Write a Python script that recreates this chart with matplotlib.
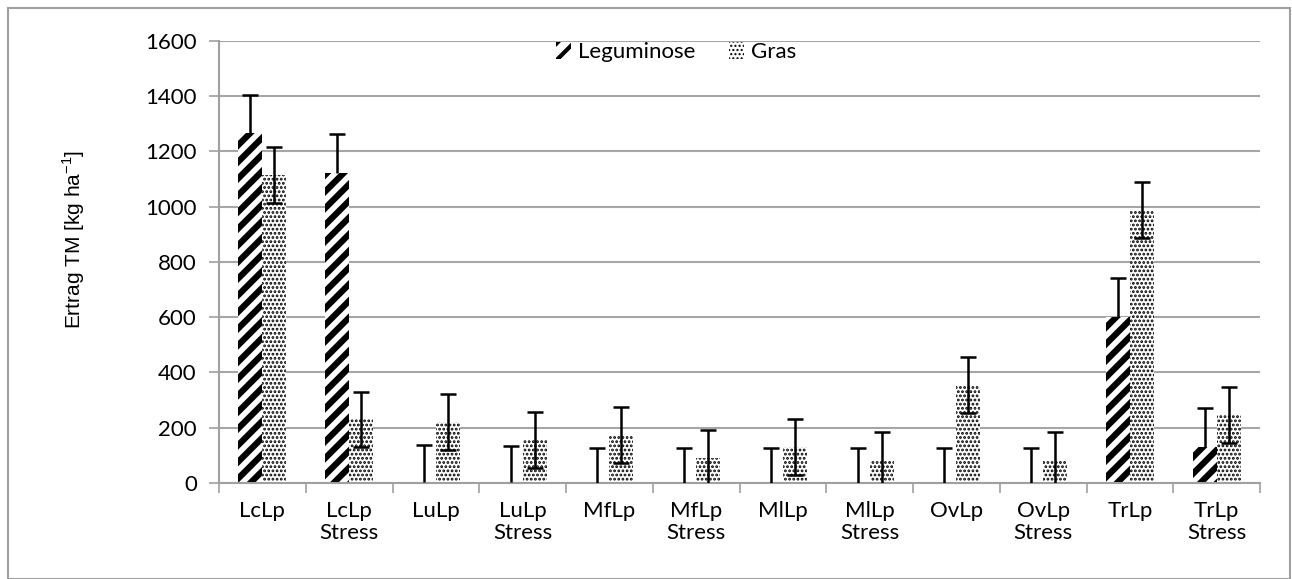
import numpy as np
import matplotlib.pyplot as plt
from matplotlib.patches import Patch, Rectangle

# Daten
kategorien = ["LcLp", "LcLp\nStress", "LuLp", "LuLp\nStress", "MfLp", "MfLp\nStress",
              "MlLp", "MlLp\nStress", "OvLp", "OvLp\nStress", "TrLp", "TrLp\nStress"]
leguminose = [1265, 1122, 5, 2, 0, 0, 0, 0, 0, 0, 601, 131]
leguminose_err = [138, 140, 132, 132, 128, 128, 128, 128, 128, 128, 139, 139]
gras = [1114, 230, 222, 156, 174, 89, 131, 83, 354, 81, 987, 246]
gras_err = [101, 100, 101, 101, 101, 101, 102, 102, 101, 102, 102, 101]

plt.rcParams["font.family"] = ["Lato", "DejaVu Sans"]

fig = plt.figure(figsize=(12.92, 5.79), dpi=100)
ax = fig.add_axes([219 / 1292, 1 - 483 / 579, (1260 - 219) / 1292, (483 - 40.7) / 579])

x = np.arange(len(kategorien))
w = 0.277

b1 = ax.bar(x - w / 2, leguminose, w, color="white", edgecolor="black",
            linewidth=0, hatch="//", zorder=2)
b2 = ax.bar(x + w / 2, gras, w, color="white", edgecolor="black",
            linewidth=0, hatch="....", zorder=2)
for p in b1:
    p.set_hatch_linewidth(4.5)
for p in b2:
    p.set_hatch_linewidth(1.35)

# Fehlerbalken: Leguminose nur nach oben, Gras beidseitig
_, caps, _ = ax.errorbar(x - w / 2, leguminose, yerr=[np.zeros(len(x)), leguminose_err],
                         fmt="none", ecolor="black", elinewidth=1.8, capsize=6,
                         capthick=1.8, zorder=3)
caps[0].remove()
ax.errorbar(x + w / 2, gras, yerr=gras_err, fmt="none",
            ecolor="black", elinewidth=1.8, capsize=6, capthick=1.8, zorder=3)

ax.set_xlim(-0.5, len(x) - 0.5)
ax.set_ylim(0, 1600)
ax.set_yticks(np.arange(0, 1601, 200))
ax.set_xticks(x)
ax.set_xticklabels(kategorien, fontsize=16, linespacing=1.1)
ax.set_xticks(np.arange(-0.5, len(x), 1), minor=True)
ax.tick_params(axis="x", which="major", length=0, pad=13)
ax.tick_params(axis="x", which="minor", length=7, width=1.2, color="#a0a0a0")
ax.tick_params(axis="y", length=7, width=1.2, color="#a0a0a0", labelsize=16, pad=9)

ax.grid(axis="y", color="#a6a6a6", linewidth=1.5, zorder=0)
ax.set_axisbelow(True)
for s in ["top", "right"]:
    ax.spines[s].set_visible(False)
for s in ["left", "bottom"]:
    ax.spines[s].set_color("#a0a0a0")
    ax.spines[s].set_linewidth(1.5)

ax.set_ylabel("Ertrag TM [kg ha$^{\\mathregular{-1}}$]", fontsize=15,
              family=["Liberation Sans"], labelpad=42)
ax.yaxis.label.set_y(0.55)

handles = [Patch(facecolor="white", edgecolor="black", linewidth=0, hatch="//"),
           Patch(facecolor="white", edgecolor="black", linewidth=0, hatch="....")]
leg = ax.legend(handles, ["Leguminose", "Gras"], ncol=2, frameon=False, fontsize=16,
                loc="center", bbox_to_anchor=(676 / 1292, 1 - 52 / 579),
                bbox_transform=fig.transFigure, handlelength=0.7, handleheight=0.8,
                handletextpad=0.3, columnspacing=1.5)
leg.get_patches()[0].set_hatch_linewidth(3.0)
leg.get_patches()[1].set_hatch_linewidth(1.0)

# Rahmen um die Grafik
fig.patches.append(Rectangle((8 / 1292, 0), 1282 / 1292, 1 - 8 / 579, transform=fig.transFigure,
                             fill=False, edgecolor="#a0a0a0", linewidth=1.5))

fig.savefig("out.png", dpi=100)
